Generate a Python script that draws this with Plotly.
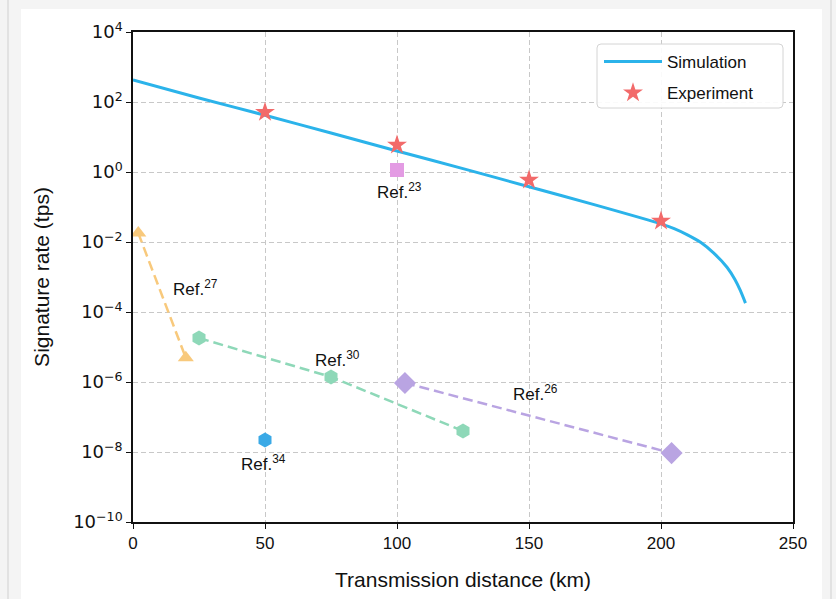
import math
import plotly.graph_objects as go

# Simulation curve (km, signature rate in tps)
sim_x = [0, 25, 50, 75, 100, 125, 150, 175, 200, 205, 210, 215, 220, 225, 228, 230, 232]
sim_y = [430, 130, 42, 13, 4.0, 1.25, 0.38, 0.115, 0.033, 0.024, 0.016, 0.0098, 0.0048, 0.0019, 0.00085, 0.00042, 0.00018]

# Experiment points
exp_x = [50, 100, 150, 200]
exp_y = [51, 5.9, 0.59, 0.04]

# Reference works
ref23_x = [100]
ref23_y = [1.14]
ref27_x = [2, 20]
ref27_y = [0.018, 4.9e-6]
ref30_x = [25, 75, 125]
ref30_y = [1.8e-5, 1.4e-6, 4.0e-8]
ref26_x = [103, 204]
ref26_y = [9.4e-7, 9.3e-9]
ref34_x = [50]
ref34_y = [2.2e-8]

labels = ["Ref.<sup>23</sup>", "Ref.<sup>27</sup>", "Ref.<sup>30</sup>", "Ref.<sup>26</sup>", "Ref.<sup>34</sup>"]
label_x = [101, 23.5, 77.5, 152.5, 49.5]
label_y = [0.28, 5e-4, 4.6e-6, 4.8e-7, 5e-9]

x_ticks = [0, 50, 100, 150, 200, 250]
y_ticks = [1e4, 1e2, 1, 1e-2, 1e-4, 1e-6, 1e-8, 1e-10]
y_tick_text = ["10<sup>4</sup>", "10<sup>2</sup>", "10<sup>0</sup>", "10<sup>−2</sup>",
               "10<sup>−4</sup>", "10<sup>−6</sup>", "10<sup>−8</sup>", "10<sup>−10</sup>"]

FONT = "Liberation Sans, Arial, Helvetica, sans-serif"
MATHFONT = "DejaVu Sans, sans-serif"

# page geometry (pixels) -> paper fractions
L, R, T, B = 133, 793, 32, 522


def px(x):
    return (x - L) / (R - L)


def py(y):
    return (B - y) / (B - T)


def rounded_box(x0, y0, x1, y1, r):
    pts = [
        f"M {px(x0 + r)} {py(y0)}", f"L {px(x1 - r)} {py(y0)}",
        f"Q {px(x1)} {py(y0)} {px(x1)} {py(y0 + r)}", f"L {px(x1)} {py(y1 - r)}",
        f"Q {px(x1)} {py(y1)} {px(x1 - r)} {py(y1)}", f"L {px(x0 + r)} {py(y1)}",
        f"Q {px(x0)} {py(y1)} {px(x0)} {py(y1 - r)}", f"L {px(x0)} {py(y0 + r)}",
        f"Q {px(x0)} {py(y0)} {px(x0 + r)} {py(y0)}", "Z",
    ]
    return " ".join(pts)


DASH = "10px,5px"

fig = go.Figure()

fig.add_trace(go.Scatter(x=sim_x, y=sim_y, mode="lines", name="Simulation", legendgroup="a",
                         line=dict(color="#2bb3ea", width=3, shape="spline", smoothing=0.6)))
fig.add_trace(go.Scatter(x=exp_x, y=exp_y, mode="markers", name="Experiment", legendgroup="b",
                         marker=dict(symbol="star", size=15, color="#f26a6a")))
fig.add_trace(go.Scatter(x=ref23_x, y=ref23_y, mode="markers", showlegend=False,
                         marker=dict(symbol="square", size=14, color="#e39be3")))
fig.add_trace(go.Scatter(x=ref27_x, y=ref27_y, mode="lines+markers", showlegend=False,
                         line=dict(color="#f8c97c", width=2.5, dash=DASH),
                         marker=dict(symbol="triangle-up", size=14, color="#f8c97c")))
fig.add_trace(go.Scatter(x=ref30_x, y=ref30_y, mode="lines+markers", showlegend=False,
                         line=dict(color="#8ed8b8", width=2.5, dash=DASH),
                         marker=dict(symbol="hexagon", size=15, color="#8ed8b8")))
fig.add_trace(go.Scatter(x=ref26_x, y=ref26_y, mode="lines+markers", showlegend=False,
                         line=dict(color="#b9a4e2", width=2.5, dash=DASH),
                         marker=dict(symbol="diamond", size=17, color="#b9a4e2")))
fig.add_trace(go.Scatter(x=ref34_x, y=ref34_y, mode="markers", showlegend=False,
                         marker=dict(symbol="hexagon", size=15, color="#3aa9e6")))

for t, lx, ly in zip(labels, label_x, label_y):
    fig.add_annotation(x=lx, y=math.log10(ly), text=t, showarrow=False,
                       font=dict(family=FONT, size=17, color="#111111"))

shapes = [
    dict(type="line", xref="paper", yref="paper", x0=px(8), x1=px(8), y0=-0.2, y1=1.1,
         line=dict(color="#e2e2e2", width=2), layer="below"),
    dict(type="line", xref="paper", yref="paper", x0=px(831), x1=px(831), y0=-0.2, y1=1.1,
         line=dict(color="#e2e2e2", width=2), layer="below"),
    dict(type="rect", xref="paper", yref="paper", x0=px(21), x1=px(822), y0=-0.2, y1=py(9),
         fillcolor="#ffffff", line=dict(width=0), layer="below"),
    dict(type="path", xref="paper", yref="paper", path=rounded_box(597, 44, 783, 108, 4),
         fillcolor="rgba(255,255,255,0.9)", line=dict(color="#d4d4d4", width=1), layer="above"),
]

fig.update_layout(
    width=836, height=599,
    margin=dict(l=L, r=836 - R, t=T, b=599 - B),
    paper_bgcolor="#f4f4f4",
    plot_bgcolor="#ffffff",
    font=dict(family=FONT, size=17, color="#111111"),
    shapes=shapes,
    showlegend=True,
    legend=dict(x=px(599), y=py(44), xanchor="left", yanchor="top",
                bgcolor="rgba(0,0,0,0)", borderwidth=0,
                font=dict(family=FONT, size=17), itemwidth=58,
                tracegroupgap=6),
    xaxis=dict(range=[0, 250], tickvals=x_ticks, showgrid=True,
               gridcolor="#c8c8c8", griddash="5px,3px", gridwidth=1,
               showline=True, linecolor="#111111", linewidth=1.5, mirror=True,
               ticks="outside", ticklen=5, tickcolor="#111111",
               zeroline=False,
               title=dict(text="Transmission distance (km)", font=dict(size=21), standoff=20),
               tickfont=dict(size=17)),
    yaxis=dict(type="log", range=[-10, 4], tickvals=y_ticks, ticktext=y_tick_text,
               showgrid=True, gridcolor="#c8c8c8", griddash="5px,3px", gridwidth=1,
               showline=True, linecolor="#111111", linewidth=1.5, mirror=True,
               ticks="outside", ticklen=5, tickcolor="#111111",
               zeroline=False,
               title=dict(text="Signature rate (tps)", font=dict(size=21), standoff=18),
               tickfont=dict(family=MATHFONT, size=18)),
)

fig.write_html("out.html", config={"displayModeBar": False},
               post_script="document.body.style.margin='0px';document.body.style.background='#f4f4f4';")
